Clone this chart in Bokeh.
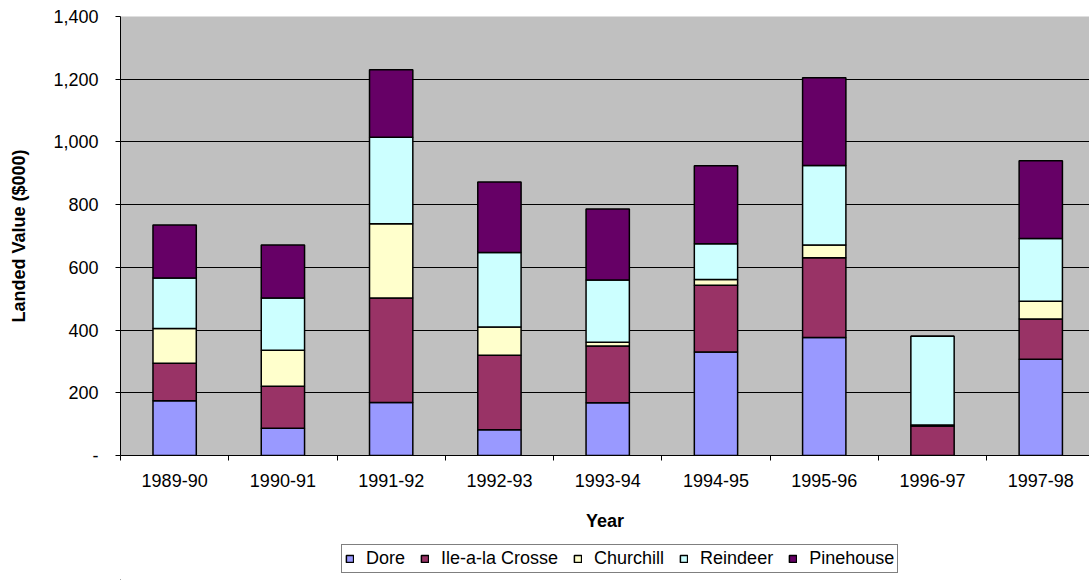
from bokeh.plotting import figure
from bokeh.layouts import column
from bokeh.models import Range1d, FixedTicker, NumeralTickFormatter, Legend, LegendItem
from bokeh.embed import file_html
from bokeh.resources import INLINE

years = ["1989-90", "1990-91", "1991-92", "1992-93", "1993-94",
         "1994-95", "1995-96", "1996-97", "1997-98"]
dore = [175, 87, 169, 82, 168, 330, 376, 0, 307]
ile_a_la_crosse = [119, 134, 333, 238, 181, 213, 255, 94, 128]
churchill = [111, 115, 237, 90, 12, 18, 40, 3, 57]
reindeer = [161, 166, 276, 237, 199, 114, 254, 283, 200]
pinehouse = [169, 169, 215, 225, 226, 249, 280, 0, 248]

series_names = ["Dore", "Ile-a-la Crosse", "Churchill", "Reindeer", "Pinehouse"]
colors = ["#9999FF", "#993366", "#FFFFCC", "#CCFFFF", "#660066"]
y_ticks = [0, 200, 400, 600, 800, 1000, 1200, 1400]

FONT = "Liberation Sans"

p = figure(width=1089, height=535, output_backend="svg", toolbar_location=None,
           x_range=Range1d(0, 8.95), y_range=Range1d(0, 1400),
           min_border_left=120, min_border_right=0, min_border_top=16,
           min_border_bottom=80,
           background_fill_color="#C0C0C0", border_fill_color="white")
p.outline_line_color = None

xs = [i + 0.5 for i in range(len(years))]
source = {"x": xs, "Dore": dore, "Ile-a-la Crosse": ile_a_la_crosse,
          "Churchill": churchill, "Reindeer": reindeer, "Pinehouse": pinehouse}

renderers = p.vbar_stack(series_names, x="x", width=0.4, source=source,
                         fill_color=colors, line_color="black", line_width=1.5)

# grid
p.xgrid.grid_line_color = None
p.ygrid.grid_line_color = "black"
p.ygrid.grid_line_width = 1
p.ygrid.ticker = FixedTicker(ticks=y_ticks)

# y axis
p.yaxis.ticker = FixedTicker(ticks=y_ticks)
p.yaxis.formatter = NumeralTickFormatter(format="0,0")
p.yaxis.major_label_overrides = {0: "-"}
p.yaxis.axis_line_color = "black"
p.yaxis.major_tick_line_color = "black"
p.yaxis.major_tick_out = 5
p.yaxis.major_tick_in = 0
p.yaxis.minor_tick_line_color = None
p.yaxis.major_label_text_font = FONT
p.yaxis.major_label_text_font_size = "18px"
p.yaxis.major_label_text_color = "black"
p.yaxis.major_label_standoff = 17
p.yaxis.axis_label = "Landed Value ($000)"
p.yaxis.axis_label_text_font = FONT
p.yaxis.axis_label_text_font_size = "18px"
p.yaxis.axis_label_text_font_style = "bold"
p.yaxis.axis_label_text_color = "black"
p.yaxis.axis_label_standoff = 21

# x axis
bounds = list(range(len(years) + 1))
p.xaxis.ticker = FixedTicker(ticks=xs, minor_ticks=bounds)
p.xaxis.major_label_overrides = {x: y for x, y in zip(xs, years)}
p.xaxis.axis_line_color = "black"
p.xaxis.major_tick_line_color = None
p.xaxis.minor_tick_line_color = "black"
p.xaxis.minor_tick_out = 5
p.xaxis.minor_tick_in = 0
p.xaxis.major_label_text_font = FONT
p.xaxis.major_label_text_font_size = "18px"
p.xaxis.major_label_text_color = "black"
p.xaxis.major_label_standoff = 12
p.xaxis.axis_label = "Year"
p.xaxis.axis_label_text_font = FONT
p.xaxis.axis_label_text_font_size = "18px"
p.xaxis.axis_label_text_font_style = "bold"
p.xaxis.axis_label_text_color = "black"
p.xaxis.axis_label_standoff = 21

# legend in its own strip below the chart (swatches are off-range stand-ins)
lp = figure(width=1089, height=45, output_backend="svg", toolbar_location=None,
            x_range=Range1d(0, 1), y_range=Range1d(0, 1),
            x_axis_type=None, y_axis_type=None,
            min_border_left=0, min_border_right=0, min_border_top=0, min_border_bottom=0,
            background_fill_color="white", border_fill_color="white")
lp.outline_line_color = None
lp.grid.visible = False
legend_renderers = [lp.vbar(x=[-10], top=[-10], bottom=[-11], width=0.4, fill_color=c,
                            line_color="black", line_width=1.5) for c in colors]

legend = Legend(items=[LegendItem(label=n, renderers=[r]) for n, r in zip(series_names, legend_renderers)],
                orientation="horizontal", location=(221, 7))
legend.border_line_color = "black"
legend.border_line_width = 1
legend.background_fill_color = "white"
legend.background_fill_alpha = 1
legend.glyph_width = 9
legend.glyph_height = 9
legend.label_standoff = 12
legend.spacing = 15
legend.padding = 3
legend.label_height = 14
legend.label_text_font = FONT
legend.label_text_font_size = "18px"
legend.label_text_color = "black"
legend.margin = 0
lp.add_layout(legend, "center")

layout = column(p, lp, spacing=0)
open("out.html", "w").write(file_html(layout, INLINE))
